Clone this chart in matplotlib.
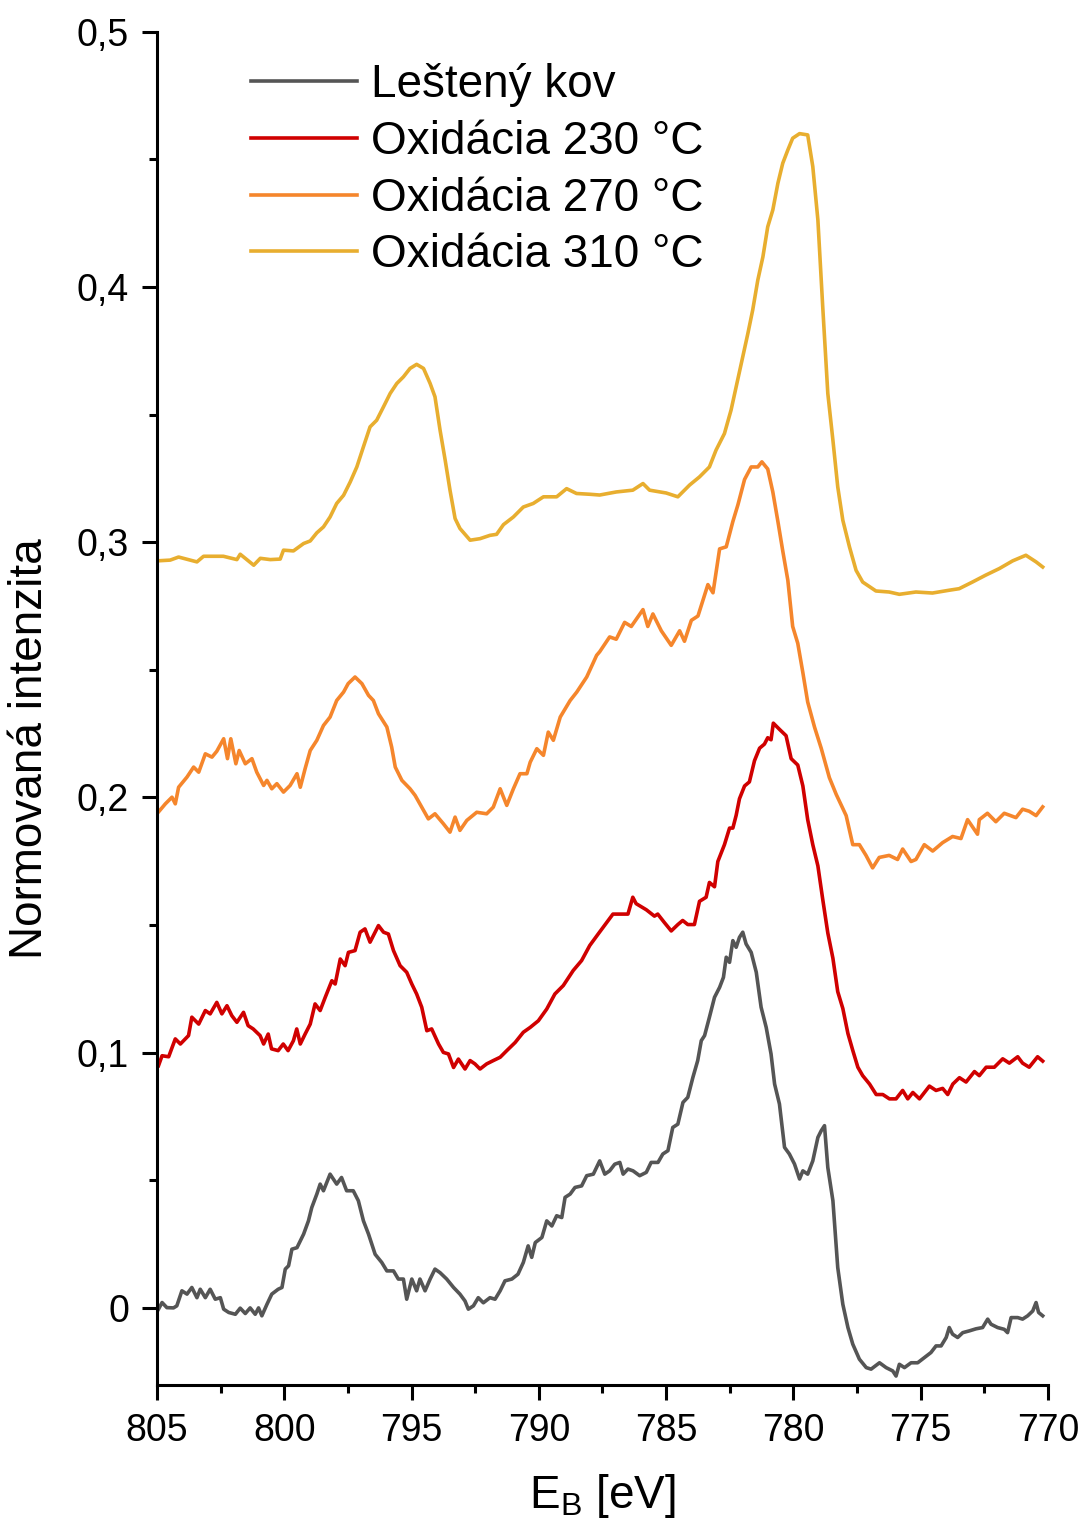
"""XPS spectra (Co 2p region) - polished metal vs. oxidised samples."""
import matplotlib
matplotlib.use("Agg")
import matplotlib.pyplot as plt
from matplotlib.ticker import FuncFormatter, MultipleLocator

plt.rcParams["font.family"] = ["Liberation Sans", "DejaVu Sans"]
plt.rcParams["mathtext.default"] = "regular"

LABELS = ["Leštený kov", "Oxidácia 230 °C", "Oxidácia 270 °C", "Oxidácia 310 °C"]
COLORS = ["#555555", "#d00000", "#f5862c", "#e8ae2f"]

# binding energy [eV] / normalised intensity
E_kov = [804.94, 804.8, 804.61, 804.35, 804.22, 804.02, 803.82, 803.63, 803.43, 803.3,
         803.1, 802.91, 802.71, 802.51, 802.38, 802.18, 801.92, 801.73, 801.53, 801.34,
         801.14, 801.01, 800.88, 800.68, 800.49, 800.24, 800.09, 799.96, 799.83, 799.7,
         799.5, 799.24, 799.05, 798.92, 798.72, 798.59, 798.46, 798.2, 797.94, 797.75,
         797.55, 797.29, 797.09, 796.89, 796.69, 796.43, 796.17, 795.97, 795.71, 795.52,
         795.32, 795.19, 794.99, 794.8, 794.67, 794.47, 794.27, 794.08, 793.88, 793.62,
         793.35, 793.1, 792.9, 792.77, 792.57, 792.38, 792.18, 791.92, 791.72, 791.52,
         791.33, 791.06, 790.82, 790.61, 790.42, 790.28, 790.14, 789.88, 789.69, 789.49,
         789.3, 789.1, 788.97, 788.77, 788.58, 788.32, 788.12, 787.86, 787.61, 787.41,
         787.22, 787.02, 786.82, 786.69, 786.5, 786.3, 786.04, 785.78, 785.59, 785.32,
         785.13, 784.93, 784.74, 784.54, 784.34, 784.15, 783.95, 783.76, 783.62, 783.49,
         783.3, 783.1, 782.9, 782.75, 782.64, 782.51, 782.38, 782.25, 782.12, 781.99,
         781.86, 781.66, 781.46, 781.27, 781.07, 780.88, 780.74, 780.55, 780.35, 780.16,
         779.96, 779.76, 779.63, 779.44, 779.24, 779.04, 778.91, 778.78, 778.65, 778.45,
         778.26, 778.06, 777.86, 777.67, 777.41, 777.14, 776.95, 776.62, 776.36, 776.1,
         775.97, 775.84, 775.64, 775.38, 775.12, 774.86, 774.6, 774.4, 774.2, 774.0,
         773.88, 773.75, 773.55, 773.35, 773.09, 772.83, 772.57, 772.37, 772.24, 771.98,
         771.72, 771.59, 771.45, 771.19, 771.0, 770.8, 770.6, 770.47, 770.37, 770.21]
I_kov = [-0.0005, 0.0021, 0.0001, 0.0, 0.0008, 0.0067, 0.0054, 0.008, 0.004, 0.0073,
         0.004, 0.0073, 0.0034, 0.004, -0.0005, -0.0018, -0.0025, -0.0001, -0.0022, 0.0,
         -0.0025, 0.0, -0.0031, 0.0014, 0.0054, 0.0073, 0.008, 0.0152, 0.0165, 0.023,
         0.0236, 0.0289, 0.0341, 0.0393, 0.0446, 0.0485, 0.0459, 0.0524, 0.0485, 0.0511,
         0.0459, 0.0459, 0.042, 0.0341, 0.0289, 0.021, 0.0178, 0.0145, 0.0145, 0.0113,
         0.0113, 0.0034, 0.0113, 0.0067, 0.0113, 0.0067, 0.0113, 0.0152, 0.0138, 0.0113,
         0.008, 0.0054, 0.0027, -0.0005, 0.0008, 0.004, 0.002, 0.004, 0.0034, 0.0067,
         0.0106, 0.0113, 0.0132, 0.0178, 0.0243, 0.0198, 0.0256, 0.0276, 0.0341, 0.0321,
         0.0361, 0.0354, 0.0433, 0.0446, 0.0472, 0.0478, 0.0518, 0.0524, 0.0576, 0.0524,
         0.0537, 0.0563, 0.057, 0.0524, 0.0544, 0.0537, 0.0518, 0.0531, 0.057, 0.057,
         0.0603, 0.0616, 0.0707, 0.072, 0.0805, 0.0825, 0.0903, 0.0969, 0.1047, 0.1067,
         0.1139, 0.1217, 0.1256, 0.1295, 0.1374, 0.1354, 0.1439, 0.1413, 0.1452, 0.1472,
         0.1426, 0.1393, 0.1315, 0.1178, 0.1099, 0.0995, 0.0877, 0.0799, 0.0629, 0.0603,
         0.0564, 0.0505, 0.0537, 0.0524, 0.0576, 0.0668, 0.0694, 0.0714, 0.055, 0.042,
         0.0158, 0.0014, -0.0077, -0.0142, -0.0201, -0.0234, -0.024, -0.0215, -0.0234, -0.0247,
         -0.0267, -0.0221, -0.0234, -0.0215, -0.0215, -0.0195, -0.0175, -0.0149, -0.0149, -0.0116,
         -0.0077, -0.0103, -0.0116, -0.0097, -0.009, -0.0082, -0.0077, -0.0044, -0.0064, -0.0077,
         -0.0084, -0.0097, -0.0038, -0.0038, -0.0044, -0.0031, -0.0012, 0.0021, -0.0018, -0.0031]

E_230 = [804.94, 804.8, 804.54, 804.28, 804.08, 803.76, 803.63, 803.36, 803.1, 802.91,
         802.65, 802.45, 802.25, 802.06, 801.86, 801.6, 801.42, 801.22, 800.95, 800.81,
         800.63, 800.5, 800.24, 800.04, 799.85, 799.64, 799.51, 799.37, 799.18, 798.98,
         798.79, 798.59, 798.39, 798.13, 798.0, 797.8, 797.61, 797.48, 797.22, 797.02,
         796.83, 796.63, 796.3, 796.1, 795.91, 795.71, 795.45, 795.19, 794.99, 794.8,
         794.6, 794.4, 794.21, 793.94, 793.75, 793.55, 793.35, 793.16, 792.9, 792.7,
         792.51, 792.31, 792.05, 791.79, 791.52, 791.26, 790.93, 790.61, 790.34, 790.02,
         789.69, 789.37, 789.04, 788.65, 788.32, 788.0, 787.67, 787.09, 786.5, 786.31,
         786.18, 785.78, 785.46, 785.33, 785.07, 784.8, 784.54, 784.35, 784.15, 783.89,
         783.69, 783.43, 783.3, 783.1, 782.97, 782.71, 782.51, 782.38, 782.25, 782.12,
         781.92, 781.73, 781.53, 781.33, 781.14, 781.01, 780.88, 780.79, 780.55, 780.29,
         780.09, 779.83, 779.63, 779.44, 779.24, 779.04, 778.85, 778.65, 778.45, 778.26,
         778.06, 777.86, 777.67, 777.47, 777.28, 777.01, 776.75, 776.49, 776.23, 775.97,
         775.71, 775.51, 775.31, 775.05, 774.66, 774.4, 774.14, 773.94, 773.74, 773.48,
         773.22, 772.89, 772.7, 772.43, 772.11, 771.78, 771.52, 771.19, 771.0, 770.74,
         770.41, 770.21]
I_230 = [0.0949, 0.0988, 0.0984, 0.1054, 0.1034, 0.1067, 0.1139, 0.1112, 0.1165, 0.1152,
         0.1197, 0.1152, 0.1184, 0.1145, 0.1119, 0.1158, 0.1106, 0.1093, 0.1067, 0.1034,
         0.1073, 0.1015, 0.1008, 0.1034, 0.1008, 0.1047, 0.1093, 0.1034, 0.1073, 0.1112,
         0.1191, 0.1165, 0.1217, 0.1282, 0.1269, 0.1367, 0.1341, 0.1393, 0.14, 0.1472,
         0.1485, 0.1433, 0.1498, 0.1472, 0.1465, 0.14, 0.1341, 0.1315, 0.1269, 0.123,
         0.1178, 0.1086, 0.1093, 0.1034, 0.1001, 0.0995, 0.0942, 0.0975, 0.0936, 0.0969,
         0.0956, 0.0936, 0.0956, 0.0969, 0.0982, 0.1008, 0.104, 0.108, 0.1099, 0.1125,
         0.1171, 0.123, 0.1263, 0.1322, 0.1361, 0.142, 0.1465, 0.1543, 0.1543, 0.1609,
         0.1584, 0.156, 0.1535, 0.1543, 0.151, 0.1477, 0.1502, 0.1518, 0.1502, 0.1502,
         0.1593, 0.1609, 0.1667, 0.165, 0.1749, 0.1815, 0.188, 0.188, 0.193, 0.1995,
         0.2045, 0.2061, 0.2144, 0.2193, 0.2209, 0.2234, 0.2226, 0.2291, 0.2267, 0.2242,
         0.2152, 0.2127, 0.2045, 0.1913, 0.1815, 0.1732, 0.1601, 0.1469, 0.137, 0.1239,
         0.1173, 0.1075, 0.1009, 0.0943, 0.091, 0.0877, 0.0836, 0.0836, 0.0819, 0.0819,
         0.0852, 0.0819, 0.0844, 0.0819, 0.0869, 0.0852, 0.086, 0.0836, 0.0877, 0.0902,
         0.0885, 0.0926, 0.091, 0.0943, 0.0943, 0.0976, 0.0959, 0.0984, 0.0959, 0.0943,
         0.0984, 0.0967]

E_270 = [805.0, 804.67, 804.41, 804.28, 804.15, 803.82, 803.56, 803.36, 803.1, 802.84,
         802.65, 802.38, 802.23, 802.1, 801.9, 801.77, 801.53, 801.27, 801.08, 800.81,
         800.68, 800.49, 800.29, 800.03, 799.77, 799.5, 799.37, 799.18, 798.98, 798.72,
         798.46, 798.2, 797.94, 797.67, 797.49, 797.22, 796.95, 796.69, 796.5, 796.3,
         795.97, 795.78, 795.64, 795.38, 795.06, 794.86, 794.6, 794.34, 794.08, 793.75,
         793.49, 793.29, 793.1, 792.83, 792.44, 792.05, 791.79, 791.52, 791.26, 791.0,
         790.74, 790.47, 790.34, 790.08, 789.82, 789.63, 789.43, 789.16, 788.77, 788.51,
         788.12, 787.73, 787.61, 787.22, 786.96, 786.63, 786.37, 785.91, 785.72, 785.52,
         785.19, 784.8, 784.47, 784.28, 784.01, 783.75, 783.62, 783.36, 783.16, 782.9,
         782.64, 782.38, 782.18, 781.92, 781.66, 781.4, 781.24, 781.01, 780.81, 780.61,
         780.42, 780.22, 780.03, 779.83, 779.63, 779.44, 779.17, 778.91, 778.59, 778.32,
         777.93, 777.67, 777.41, 777.15, 776.89, 776.63, 776.24, 775.91, 775.71, 775.38,
         775.19, 774.86, 774.53, 774.14, 773.75, 773.42, 773.16, 772.77, 772.7, 772.38,
         772.05, 771.72, 771.26, 771.0, 770.74, 770.47, 770.21]
I_270 = [0.1936, 0.1975, 0.2001, 0.1975, 0.204, 0.208, 0.2119, 0.2099, 0.2171, 0.2158,
         0.2181, 0.223, 0.2152, 0.223, 0.2132, 0.2184, 0.2132, 0.2152, 0.2099, 0.2047,
         0.2067, 0.2034, 0.2054, 0.2021, 0.2047, 0.2093, 0.204, 0.2113, 0.2184, 0.2224,
         0.2282, 0.2315, 0.238, 0.2413, 0.2446, 0.2472, 0.2446, 0.24, 0.238, 0.2328,
         0.2276, 0.2197, 0.2119, 0.2067, 0.2034, 0.2008, 0.1962, 0.1916, 0.1936, 0.1897,
         0.1864, 0.1923, 0.1871, 0.191, 0.1942, 0.1936, 0.1962, 0.2034, 0.1969, 0.2034,
         0.2093, 0.2093, 0.2138, 0.2191, 0.2165, 0.2256, 0.2224, 0.2315, 0.238, 0.2413,
         0.2472, 0.2557, 0.2571, 0.2629, 0.262, 0.2686, 0.267, 0.2736, 0.267, 0.2719,
         0.2653, 0.2596, 0.2653, 0.2612, 0.2694, 0.2711, 0.2752, 0.2834, 0.2802, 0.2974,
         0.2982, 0.3081, 0.3147, 0.3246, 0.3295, 0.3295, 0.3315, 0.3287, 0.3197, 0.3081,
         0.2966, 0.2851, 0.267, 0.2604, 0.2489, 0.2374, 0.2275, 0.2193, 0.2078, 0.2012,
         0.1929, 0.1815, 0.1815, 0.1773, 0.1724, 0.1765, 0.1773, 0.1757, 0.1798, 0.1749,
         0.1757, 0.1815, 0.179, 0.1823, 0.1847, 0.1839, 0.1913, 0.1856, 0.1913, 0.1938,
         0.1905, 0.1938, 0.1921, 0.1954, 0.1946, 0.1929, 0.1963]

E_310 = [805.0, 804.48, 804.15, 803.43, 803.17, 802.39, 801.86, 801.73, 801.2, 800.94,
         800.55, 800.16, 800.03, 799.64, 799.24, 798.98, 798.72, 798.46, 798.2, 797.94,
         797.67, 797.41, 797.15, 796.89, 796.63, 796.37, 796.1, 795.84, 795.58, 795.32,
         795.06, 794.8, 794.53, 794.27, 794.08, 793.88, 793.68, 793.49, 793.29, 793.1,
         792.7, 792.31, 791.92, 791.66, 791.39, 791.0, 790.61, 790.22, 789.82, 789.3,
         788.91, 788.52, 788.0, 787.61, 786.96, 786.31, 785.91, 785.65, 785.0, 784.54,
         784.08, 783.69, 783.3, 783.04, 782.71, 782.45, 782.25, 781.99, 781.79, 781.6,
         781.4, 781.2, 781.01, 780.81, 780.61, 780.42, 780.22, 780.03, 779.76, 779.44,
         779.24, 779.04, 778.85, 778.65, 778.45, 778.26, 778.06, 777.8, 777.54, 777.28,
         776.76, 776.24, 775.84, 775.19, 774.54, 773.88, 773.49, 772.97, 772.45, 771.91,
         771.39, 770.87, 770.47, 770.21]
I_310 = [0.2927, 0.293, 0.2942, 0.2923, 0.2945, 0.2945, 0.2932, 0.2953, 0.291, 0.2937,
         0.2932, 0.2934, 0.2969, 0.2966, 0.2995, 0.3005, 0.3037, 0.306, 0.3099, 0.3152,
         0.3184, 0.3236, 0.3295, 0.3374, 0.3452, 0.3478, 0.3531, 0.3583, 0.3622, 0.3648,
         0.3681, 0.3697, 0.3681, 0.3622, 0.357, 0.3439, 0.3322, 0.3204, 0.3093, 0.3054,
         0.3008, 0.3014, 0.3027, 0.3031, 0.3069, 0.3099, 0.3138, 0.3152, 0.3178, 0.3178,
         0.321, 0.3191, 0.3188, 0.3185, 0.3197, 0.3204, 0.323, 0.3204, 0.3193, 0.3178,
         0.3224, 0.3256, 0.3295, 0.3361, 0.3426, 0.3518, 0.3609, 0.3727, 0.3818, 0.391,
         0.4027, 0.4118, 0.4236, 0.4302, 0.4407, 0.4485, 0.4537, 0.4583, 0.4601, 0.4596,
         0.4472, 0.4263, 0.3923, 0.3583, 0.34, 0.3217, 0.3086, 0.2982, 0.289, 0.2844,
         0.2809, 0.2805, 0.2796, 0.2805, 0.2801, 0.2812, 0.2818, 0.2844, 0.2871, 0.2897,
         0.2927, 0.2949, 0.2923, 0.2903]


def fmt_y(v, pos):
    if abs(v) < 1e-9:
        return "0"
    return f"{v:.1f}".replace(".", ",")


fig = plt.figure(figsize=(10.9, 15.29), dpi=100)
ax = fig.add_axes([0.144, 0.0942, 0.8175, 0.885])

series = [(E_kov, I_kov), (E_230, I_230), (E_270, I_270), (E_310, I_310)]
for (e, i), lab, col in zip(series, LABELS, COLORS):
    ax.plot(e, i, color=col, lw=2.6, label=lab)

ax.set_xlim(805, 770)
ax.set_ylim(-0.0302, 0.5)
ax.xaxis.set_major_locator(MultipleLocator(5))
ax.xaxis.set_minor_locator(MultipleLocator(2.5))
ax.yaxis.set_major_locator(MultipleLocator(0.1))
ax.yaxis.set_minor_locator(MultipleLocator(0.05))
ax.yaxis.set_major_formatter(FuncFormatter(fmt_y))

for s in ("top", "right"):
    ax.spines[s].set_visible(False)
for s in ("left", "bottom"):
    ax.spines[s].set_linewidth(2.2)
ax.tick_params(which="major", direction="out", length=11, width=2.2,
               labelsize=27, pad=9)
ax.tick_params(which="minor", direction="out", length=6, width=2.2)

ax.set_xlabel("E$_{B}$ [eV]", fontsize=33)
ax.set_ylabel("Normovaná intenzita", fontsize=33)
ax.xaxis.set_label_coords(0.5, -0.064)
ax.yaxis.set_label_coords(-0.118, 0.47)

ax.legend(frameon=False, loc="upper left", bbox_to_anchor=(0.106, 0.977),
          fontsize=33, handlelength=2.3, handletextpad=0.3, labelspacing=0.28,
          borderpad=0, borderaxespad=0)

fig.savefig("out.png", dpi=100)
